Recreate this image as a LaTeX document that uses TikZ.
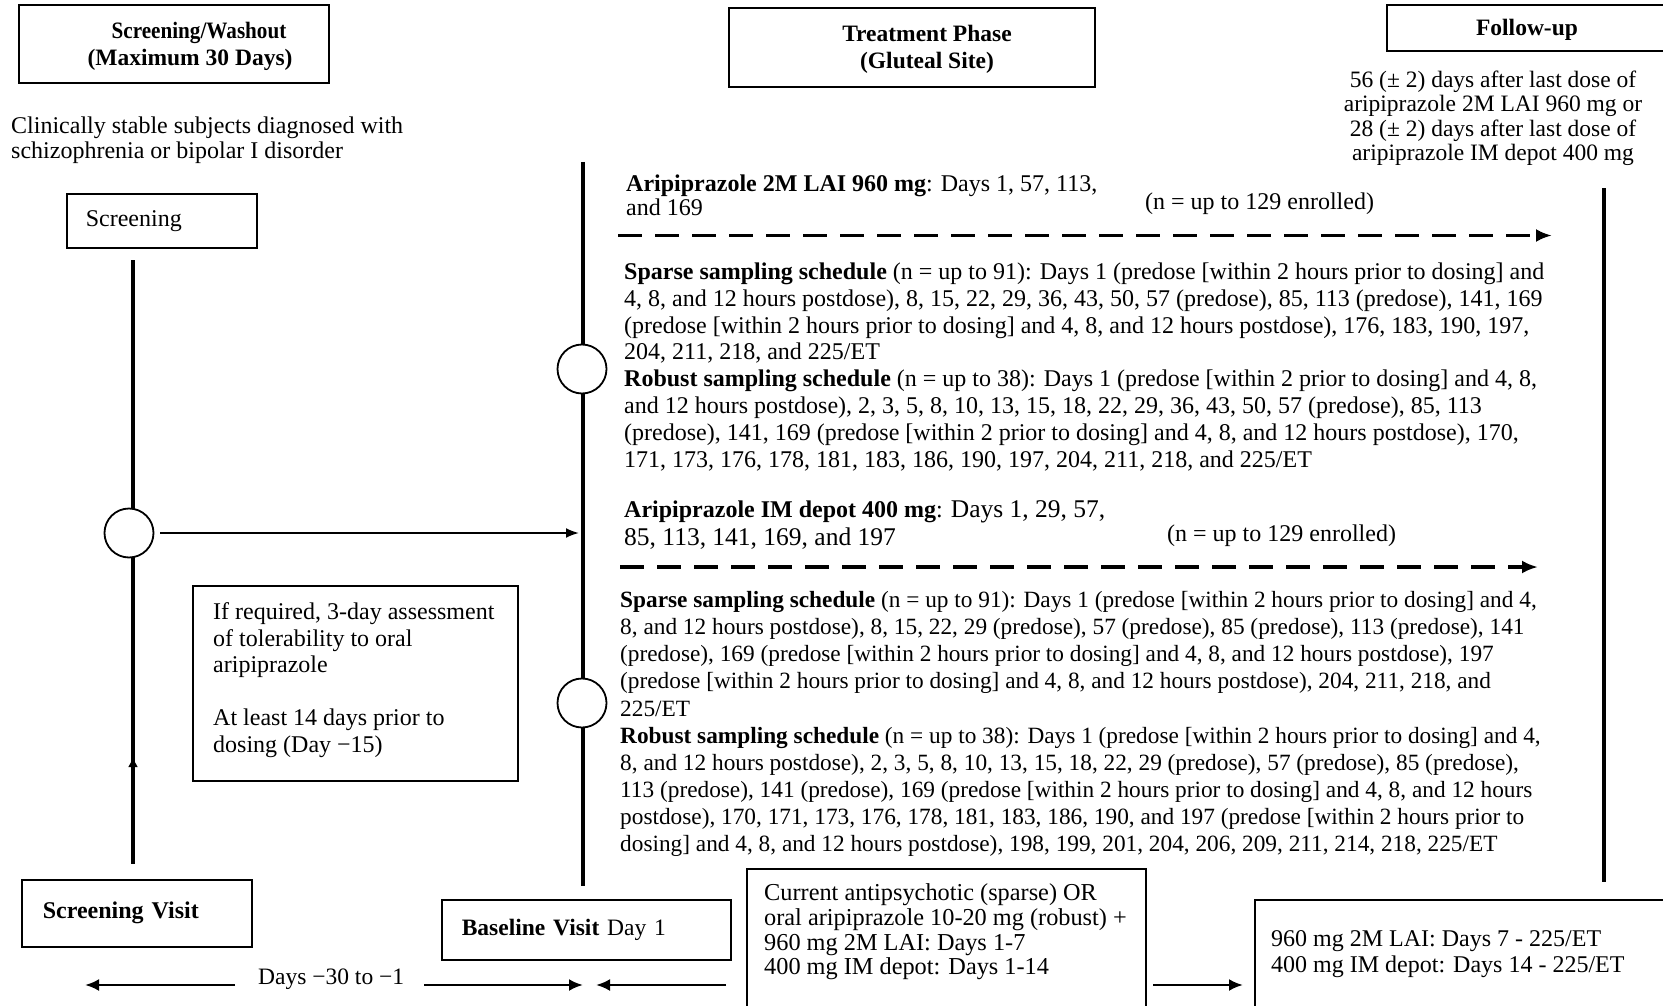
\documentclass[tikz,border=0pt]{standalone}
\usepackage{graphicx}
\usepackage{fontspec}
\setmainfont{Liberation Serif}
\usetikzlibrary{arrows.meta}
\newcommand\bodyfs{\fontsize{24}{27}\selectfont}
\begin{document}
\begin{tikzpicture}[x=1pt,y=-1pt,
  box/.style={draw,line width=1.6pt,inner sep=0pt},
  titlebox/.style={draw,line width=2pt,inner sep=0pt},
  titletext/.style={font=\fontsize{23.5}{27}\selectfont\bfseries,align=center,inner sep=0pt},
  vline/.style={line width=3.6pt},
  circ/.style={circle,draw,line width=1.8pt,fill=white,minimum size=49pt,inner sep=0pt},
  blk/.style={inner sep=0pt,anchor=north west,align=left,font=\bodyfs,execute at begin node=\strut},
  txt/.style={inner sep=0pt,anchor=base west,font=\bodyfs},
  arr/.style={line width=2pt,-{Latex[length=13pt,width=10pt]}},
  barr/.style={line width=2.6pt,-{Latex[length=14pt,width=12pt]}},
  darr/.style={line width=3.2pt,dash pattern=on 24pt off 13pt,-{Latex[length=16pt,width=13pt]}}
]
\clip (0,0) rectangle (1663,1006);
\fill[white] (0,0) rectangle (1663,1006);

% header boxes
\node[titlebox,minimum width=310pt,minimum height=78pt] (sw) at (174,44) {};
\node[titletext] (swt) at (190,46.5) {\hspace*{18pt}\scalebox{0.9}[1]{Screening/Washout}\\(Maximum 30 Days)};
\node[titlebox,minimum width=366pt,minimum height=79pt] (tp) at (912,47.5) {};
\node[titletext] (tpt) at (927,49) {Treatment Phase\\(Gluteal Site)};
\node[titlebox,minimum width=283pt,minimum height=46pt] (fu) at (1528.5,28) {};
\node[titletext] (fut0) at (1527,30) {Follow-up};

\node[blk,font=\fontsize{24}{24.5}\selectfont] (cs) at (11,117) {Clinically stable subjects diagnosed with\\schizophrenia or bipolar I disorder};
\node[blk,align=center,anchor=north,font=\fontsize{23.5}{24.5}\selectfont] (fut) at (1493,70.5) {56 (± 2) days after last dose of\\aripiprazole 2M LAI 960 mg or\\28 (± 2) days after last dose of\\aripiprazole IM depot 400 mg};

\node[box,anchor=north west,minimum height=54pt,text width=152pt,inner xsep=19pt,align=left,font=\bodyfs] (scr) at (66,193) {Screening};

% vertical lines
\coordinate (l1t) at (133,260); \coordinate (l1b) at (133,864);
\coordinate (l2t) at (583,162); \coordinate (l2b) at (583,886);
\coordinate (l3t) at (1604,188); \coordinate (l3b) at (1604,882);
\draw[vline] (l1t) -- (l1b);
\draw[vline] (l2t) -- (l2b);
\draw[vline] (l3t) -- (l3b);
\coordinate (upa) at (133,776); \coordinate (upb) at (133,757);
\draw[line width=3.6pt,-{Latex[length=10pt,width=10pt]}] (upa) -- (upb);

\node[circ] (lc) at (129,533) {};
\node[circ] (mc1) at (582,369) {};
\node[circ] (mc2) at (582,703) {};
\coordinate (midin) at (579,533);
\draw[arr,shorten <=6pt] (lc) -- (midin);

% 2M LAI arm
\node[blk,font=\fontsize{24}{24}\selectfont] (a2) at (626,175) {\textbf{Aripiprazole 2M LAI 960 mg}: Days 1, 57, 113,\\and 169};
\node[txt] (n1) at (1145,209) {(n = up to 129 enrolled)};
\coordinate (d1s) at (618,235.5); \coordinate (d1e) at (1552,235.5);
\draw[darr] (d1s) -- (d1e);

\node[blk,font=\fontsize{24}{26.8}\selectfont] (s1) at (624,262.7) {\textbf{Sparse sampling schedule} (n = up to 91): Days 1 (predose [within 2 hours prior to dosing] and\\
4, 8, and 12 hours postdose), 8, 15, 22, 29, 36, 43, 50, 57 (predose), 85, 113 (predose), 141, 169\\
(predose [within 2 hours prior to dosing] and 4, 8, and 12 hours postdose), 176, 183, 190, 197,\\
204, 211, 218, and 225/ET\\
\textbf{Robust sampling schedule} (n = up to 38): Days 1 (predose [within 2 prior to dosing] and 4, 8,\\
and 12 hours postdose), 2, 3, 5, 8, 10, 13, 15, 18, 22, 29, 36, 43, 50, 57 (predose), 85, 113\\
(predose), 141, 169 (predose [within 2 prior to dosing] and 4, 8, and 12 hours postdose), 170,\\
171, 173, 176, 178, 181, 183, 186, 190, 197, 204, 211, 218, and 225/ET};

% IM depot arm
\node[blk,font=\fontsize{24}{27.7}\selectfont] (aim) at (624,500.6) {\textbf{Aripiprazole IM depot 400 mg}: {\fontsize{25.5}{27.7}\selectfont Days 1, 29, 57,}\\{\fontsize{25.5}{27.7}\selectfont 85, 113, 141, 169, and 197}};
\node[txt] (n2) at (1167,541) {(n = up to 129 enrolled)};
\coordinate (d2s) at (620,567); \coordinate (d2e) at (1538,567);
\draw[darr] (d2s) -- (d2e);

\node[blk,font=\fontsize{23.3}{27.1}\selectfont] (s2) at (620,591.3) {\textbf{Sparse sampling schedule} (n = up to 91): Days 1 (predose [within 2 hours prior to dosing] and 4,\\
8, and 12 hours postdose), 8, 15, 22, 29 (predose), 57 (predose), 85 (predose), 113 (predose), 141\\
(predose), 169 (predose [within 2 hours prior to dosing] and 4, 8, and 12 hours postdose), 197\\
(predose [within 2 hours prior to dosing] and 4, 8, and 12 hours postdose), 204, 211, 218, and\\
225/ET\\
\textbf{Robust sampling schedule} (n = up to 38): Days 1 (predose [within 2 hours prior to dosing] and 4,\\
8, and 12 hours postdose), 2, 3, 5, 8, 10, 13, 15, 18, 22, 29 (predose), 57 (predose), 85 (predose),\\
113 (predose), 141 (predose), 169 (predose [within 2 hours prior to dosing] and 4, 8, and 12 hours\\
postdose), 170, 171, 173, 176, 178, 181, 183, 186, 190, and 197 (predose [within 2 hours prior to\\
dosing] and 4, 8, and 12 hours postdose), 198, 199, 201, 204, 206, 209, 211, 214, 218, 225/ET};

% tolerability box
\node[box,anchor=north west,minimum width=325pt,minimum height=195pt] (tol) at (192,585) {};
\node[blk,font=\fontsize{24}{26.5}\selectfont] (tolt) at (213,602.5) {If required, 3-day assessment\\of tolerability to oral\\aripiprazole\\[26.5pt]At least 14 days prior to\\dosing (Day −15)};

% bottom boxes
\node[box,anchor=north west,minimum height=67pt,text width=188pt,inner xsep=21pt,align=left,font=\bodyfs\bfseries] (sv) at (21,879) {Screening Visit};
\node[box,anchor=north west,minimum height=60pt,text width=249pt,inner xsep=20pt,align=left,font=\fontsize{23.5}{27}\selectfont] (bv) at (441,899) {\textbf{Baseline Visit} Day 1};
\node[box,anchor=north west,minimum width=399pt,minimum height=150pt] (cur) at (746,868) {};
\node[blk,font=\fontsize{24.3}{24.7}\selectfont] (curt) at (764,883.7) {Current antipsychotic (sparse) OR\\oral aripiprazole 10-20 mg (robust) +\\960 mg 2M LAI: Days 1-7\\400 mg IM depot: Days 1-14};
\node[box,anchor=north west,minimum width=420pt,minimum height=120pt] (dur) at (1254,899) {};
\node[blk,font=\fontsize{24}{25.4}\selectfont] (durt) at (1271,930.8) {960 mg 2M LAI: Days 7 - 225/ET\\400 mg IM depot: Days 14 - 225/ET};

% bottom arrows
\node[txt,font=\fontsize{23.5}{27}\selectfont] (days) at (258,984) {Days −30 to −1};
\coordinate (a1s) at (235,985); \coordinate (a1e) at (85,985);
\coordinate (a2s) at (424,985); \coordinate (a2e) at (583,985);
\coordinate (a3s) at (726,985); \coordinate (a3e) at (596,985);
\coordinate (a4s) at (1153,985); \coordinate (a4e) at (1243,985);
\draw[barr] (a1s) -- (a1e);
\draw[barr] (a2s) -- (a2e);
\draw[barr] (a3s) -- (a3e);
\draw[barr] (a4s) -- (a4e);
\end{tikzpicture}
\end{document}
